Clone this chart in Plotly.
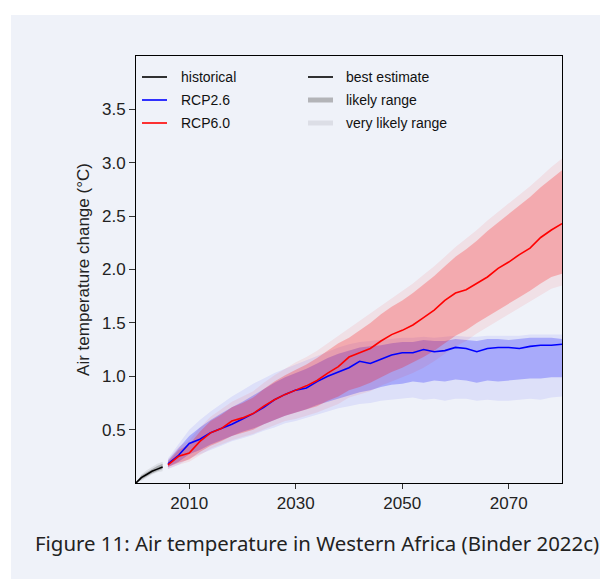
import plotly.graph_objects as go

# ---------------- data ----------------
hist_years = [2000, 2001, 2002, 2003, 2004, 2005]
hist_best = [0.00, 0.05, 0.08, 0.11, 0.13, 0.15]
hist_lik_lo = [0.00, 0.03, 0.06, 0.09, 0.11, 0.13]
hist_lik_hi = [0.00, 0.07, 0.10, 0.13, 0.16, 0.18]
hist_vl_lo = [0.00, 0.02, 0.05, 0.08, 0.10, 0.11]
hist_vl_hi = [0.01, 0.08, 0.12, 0.15, 0.18, 0.20]

years = list(range(2006, 2081, 2))

rcp26_best = [0.18, 0.26, 0.37, 0.41, 0.47, 0.51, 0.55, 0.60, 0.65, 0.71, 0.78, 0.83, 0.87,
              0.89, 0.95, 1.00, 1.04, 1.08, 1.14, 1.12, 1.16, 1.20, 1.22, 1.22, 1.25, 1.23,
              1.24, 1.27, 1.26, 1.23, 1.26, 1.27, 1.27, 1.26, 1.28, 1.29, 1.29, 1.30]
rcp26_lik_lo = [0.15, 0.20, 0.27, 0.31, 0.36, 0.40, 0.44, 0.48, 0.51, 0.55, 0.59, 0.63, 0.66,
                0.69, 0.73, 0.76, 0.79, 0.82, 0.85, 0.87, 0.90, 0.92, 0.93, 0.95, 0.94, 0.96,
                0.95, 0.97, 0.96, 0.94, 0.96, 0.95, 0.96, 0.97, 0.98, 0.98, 0.99, 0.99]
rcp26_lik_hi = [0.21, 0.32, 0.44, 0.52, 0.59, 0.65, 0.71, 0.76, 0.82, 0.88, 0.94, 0.99, 1.03,
                1.07, 1.12, 1.17, 1.21, 1.24, 1.27, 1.28, 1.29, 1.31, 1.32, 1.32, 1.34, 1.33,
                1.33, 1.35, 1.34, 1.33, 1.35, 1.35, 1.34, 1.35, 1.36, 1.36, 1.36, 1.35]
rcp26_vl_lo = [0.13, 0.17, 0.23, 0.27, 0.31, 0.35, 0.39, 0.42, 0.45, 0.49, 0.52, 0.56, 0.58,
               0.61, 0.64, 0.67, 0.70, 0.72, 0.74, 0.75, 0.77, 0.78, 0.79, 0.80, 0.78, 0.79,
               0.77, 0.79, 0.79, 0.77, 0.78, 0.77, 0.77, 0.78, 0.79, 0.78, 0.80, 0.81]
rcp26_vl_hi = [0.23, 0.36, 0.50, 0.59, 0.67, 0.74, 0.81, 0.87, 0.93, 0.98, 1.03, 1.07, 1.11,
               1.15, 1.19, 1.23, 1.27, 1.30, 1.32, 1.33, 1.34, 1.35, 1.36, 1.36, 1.37, 1.36,
               1.37, 1.38, 1.37, 1.37, 1.38, 1.38, 1.38, 1.38, 1.39, 1.39, 1.39, 1.39]

rcp60_best = [0.17, 0.25, 0.28, 0.39, 0.47, 0.51, 0.58, 0.61, 0.65, 0.72, 0.78, 0.83, 0.87,
              0.91, 0.96, 1.03, 1.09, 1.18, 1.22, 1.26, 1.33, 1.39, 1.43, 1.48, 1.55, 1.62,
              1.71, 1.78, 1.81, 1.87, 1.93, 2.01, 2.07, 2.14, 2.20, 2.30, 2.37, 2.43]
rcp60_lik_lo = [0.15, 0.19, 0.22, 0.29, 0.35, 0.39, 0.44, 0.47, 0.50, 0.55, 0.59, 0.63, 0.66,
                0.69, 0.72, 0.77, 0.81, 0.87, 0.90, 0.94, 0.99, 1.04, 1.08, 1.13, 1.18, 1.24,
                1.31, 1.38, 1.43, 1.50, 1.56, 1.62, 1.68, 1.74, 1.80, 1.87, 1.93, 1.96]
rcp60_lik_hi = [0.20, 0.31, 0.36, 0.48, 0.58, 0.64, 0.71, 0.75, 0.80, 0.88, 0.95, 1.01, 1.06,
                1.11, 1.17, 1.24, 1.31, 1.36, 1.43, 1.50, 1.58, 1.65, 1.71, 1.78, 1.86, 1.94,
                2.03, 2.12, 2.19, 2.27, 2.36, 2.44, 2.52, 2.60, 2.68, 2.77, 2.85, 2.93]
rcp60_vl_lo = [0.13, 0.17, 0.20, 0.26, 0.32, 0.36, 0.40, 0.43, 0.46, 0.50, 0.54, 0.58, 0.60,
               0.63, 0.66, 0.70, 0.74, 0.80, 0.83, 0.86, 0.91, 0.95, 0.99, 1.03, 1.08, 1.14,
               1.21, 1.28, 1.33, 1.40, 1.46, 1.52, 1.58, 1.64, 1.70, 1.76, 1.82, 1.85]
rcp60_vl_hi = [0.22, 0.34, 0.40, 0.52, 0.62, 0.69, 0.76, 0.81, 0.86, 0.94, 1.01, 1.07, 1.13,
               1.18, 1.24, 1.31, 1.38, 1.45, 1.52, 1.59, 1.66, 1.73, 1.80, 1.87, 1.95, 2.03,
               2.12, 2.21, 2.29, 2.37, 2.46, 2.54, 2.62, 2.70, 2.78, 2.87, 2.96, 3.04]

x_ticks = [2010, 2030, 2050, 2070]
y_ticks = [0.5, 1.0, 1.5, 2.0, 2.5, 3.0, 3.5]

legend_left = ["historical", "RCP2.6", "RCP6.0"]
legend_right = ["best estimate", "likely range", "very likely range"]

caption = "Figure 11: Air temperature in Western Africa (Binder 2022c)"

# ---------------- figure ----------------
PANEL = "#eff2f9"
FONT = "Liberation Sans, Arial"
fig = go.Figure()


def band(x, lo, hi, color):
    fig.add_trace(go.Scatter(
        x=list(x) + list(x)[::-1], y=list(hi) + list(lo)[::-1],
        fill="toself", fillcolor=color, line=dict(width=0),
        mode="lines", hoverinfo="skip", showlegend=False))


# historical
band(hist_years, hist_vl_lo, hist_vl_hi, "rgba(0,0,0,0.08)")
band(hist_years, hist_lik_lo, hist_lik_hi, "rgba(0,0,0,0.22)")
# RCP2.6
band(years, rcp26_vl_lo, rcp26_vl_hi, "rgba(0,0,255,0.075)")
band(years, rcp26_lik_lo, rcp26_lik_hi, "rgba(0,0,255,0.24)")
# RCP6.0
band(years, rcp60_vl_lo, rcp60_vl_hi, "rgba(255,0,0,0.075)")
band(years, rcp60_lik_lo, rcp60_lik_hi, "rgba(255,0,0,0.24)")

fig.add_trace(go.Scatter(x=hist_years, y=hist_best, mode="lines",
                         line=dict(color="black", width=1.6), showlegend=False))
fig.add_trace(go.Scatter(x=years, y=rcp26_best, mode="lines",
                         line=dict(color="#0000ff", width=1.6), showlegend=False))
fig.add_trace(go.Scatter(x=years, y=rcp60_best, mode="lines",
                         line=dict(color="#ff0000", width=1.6), showlegend=False))

# page body has an 8px margin: work in screen pixels, shifted by OFF
OFF = 8
W, H = 600, 571
L, T = 136 - OFF, 56 - OFF
R = W - (562 - OFF)
B = H - (483 - OFF)
pw, ph = W - L - R, H - T - B


def px_x(px):
    return (px - OFF - L) / pw


def px_y(py):
    return (H - B - (py - OFF)) / ph


shapes = [dict(type="rect", xref="paper", yref="paper",
               x0=px_x(11), x1=px_x(620), y0=px_y(600), y1=px_y(15),
               fillcolor=PANEL, line=dict(width=0), layer="below")]

# manual legend
annotations = []
rows_y = [77, 100, 123]
left_colors = ["black", "#0000ff", "#ff0000"]
for i, name in enumerate(legend_left):
    shapes.append(dict(type="line", xref="paper", yref="paper",
                       x0=px_x(142), x1=px_x(167), y0=px_y(rows_y[i]), y1=px_y(rows_y[i]),
                       line=dict(color=left_colors[i], width=1.6)))
    annotations.append(dict(text=name, xref="paper", yref="paper",
                            x=px_x(179), y=px_y(rows_y[i]), xanchor="left", yanchor="middle",
                            showarrow=False, font=dict(family=FONT, size=14, color="#111")))
right_styles = [("black", 1.6), ("#b3b4b8", 5), ("#dcdee6", 5)]
for i, name in enumerate(legend_right):
    c, w = right_styles[i]
    shapes.append(dict(type="line", xref="paper", yref="paper",
                       x0=px_x(308), x1=px_x(333), y0=px_y(rows_y[i]), y1=px_y(rows_y[i]),
                       line=dict(color=c, width=w)))
    annotations.append(dict(text=name, xref="paper", yref="paper",
                            x=px_x(344), y=px_y(rows_y[i]), xanchor="left", yanchor="middle",
                            showarrow=False, font=dict(family=FONT, size=14, color="#111")))

annotations.append(dict(text=caption, xref="paper", yref="paper",
                        x=px_x(317), y=px_y(543), xanchor="center", yanchor="middle",
                        showarrow=False, font=dict(family="Noto Sans", size=20.4, color="#222")))

fig.update_layout(
    width=W, height=H,
    margin=dict(l=L, r=R, t=T, b=B, pad=0),
    paper_bgcolor="white",
    plot_bgcolor="rgba(0,0,0,0)",
    shapes=shapes,
    annotations=annotations,
    showlegend=False,
    xaxis=dict(range=[2000, 2080], tickvals=x_ticks, ticks="outside", ticklen=5,
               tickcolor="#333", showline=True, linecolor="black", linewidth=1,
               mirror=True, showgrid=False, zeroline=False,
               tickfont=dict(family=FONT, size=17, color="#222")),
    yaxis=dict(range=[0, 4.0], tickvals=y_ticks, tickformat=".1f", ticks="outside",
               ticklen=6, tickcolor="#333", showline=True, linecolor="black", linewidth=1,
               mirror=True, showgrid=False, zeroline=False,
               title=dict(text="Air temperature change (°C)", standoff=8,
                          font=dict(family=FONT, size=17, color="#222")),
               tickfont=dict(family=FONT, size=17, color="#222")),
)

fig.write_html("out.html")
